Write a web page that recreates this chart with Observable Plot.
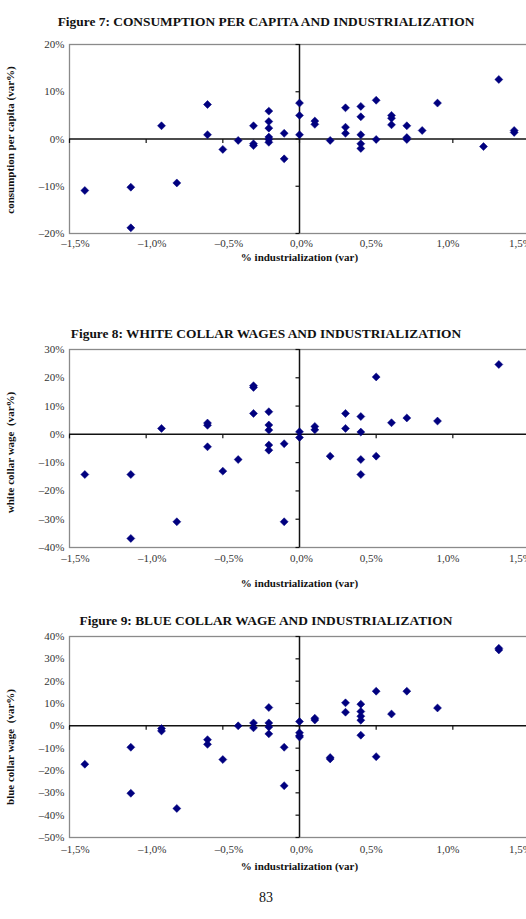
<!DOCTYPE html>
<html>
<head>
<meta charset="utf-8">
<script src="https://cdn.jsdelivr.net/npm/d3@7"></script>
<script src="https://cdn.jsdelivr.net/npm/@observablehq/plot@0.6"></script>
<style>
  html, body { margin: 0; padding: 0; background: #fff; }
  body { width: 526px; height: 919px; overflow: hidden; }
  #page { position: relative; width: 526px; height: 919px; overflow: hidden;
          font-family: "Liberation Serif", "Times New Roman", serif; color: #111; }
  .title { position: absolute; left: 0; width: 532px; text-align: center;
           font-weight: bold; font-size: 13.4px; line-height: 14px; white-space: nowrap; }
  .chart { position: absolute; left: 0; overflow: visible; max-width: none !important; }
  .page-number { position: absolute; left: 0; width: 532px; text-align: center;
                 font-size: 14px; line-height: 14px; }
</style>
</head>
<body>
<div id="page">
  <div class="title" style="top:15px">Figure 7: CONSUMPTION PER CAPITA AND INDUSTRIALIZATION</div>
  <div class="title" style="top:327px">Figure 8: WHITE COLLAR WAGES AND INDUSTRIALIZATION</div>
  <div class="title" style="top:614px">Figure 9: BLUE COLLAR WAGE AND INDUSTRIALIZATION</div>
  <div class="page-number" style="top:891px">83</div>
</div>
<script>
// Industrialization change (%) shared tick labels
const industrializationTicks = [-1.5, -1.0, -0.5, 0.0, 0.5, 1.0, 1.5];

// Figure 7: consumption per capita vs industrialization
const consumptionX = [-1.4, -1.1, -1.1, -0.9, -0.8, -0.6, -0.6, -0.5, -0.4, -0.3, -0.3, -0.3,
  -0.2, -0.2, -0.2, -0.2, -0.2, -0.2, -0.1, -0.1, 0.0, 0.0, 0.0, 0.1, 0.1, 0.2,
  0.3, 0.3, 0.3, 0.4, 0.4, 0.4, 0.4, 0.4, 0.5, 0.5, 0.6, 0.6, 0.6, 0.7, 0.7, 0.7,
  0.8, 0.9, 1.2, 1.3, 1.4, 1.4];
const consumptionY = [-10.9, -10.2, -18.8, 2.8, -9.3, 7.3, 0.9, -2.2, -0.3, 2.8, -1.0, -1.4,
  5.9, 3.7, 2.3, 0.4, -0.1, -0.7, 1.2, -4.2, 7.6, 5.0, 0.9, 3.8, 3.1, -0.3,
  6.6, 2.5, 1.2, 6.9, 4.7, 0.9, -1.0, -2.0, 8.2, -0.1, 5.0, 4.4, 3.0, 2.8, 0.3, -0.1,
  1.8, 7.6, -1.6, 12.6, 1.8, 1.4];
const consumptionTicks = [-20, -10, 0, 10, 20];

// Figure 8: white collar wages vs industrialization
const whiteCollarX = [-1.4, -1.1, -1.1, -0.9, -0.8, -0.6, -0.6, -0.6, -0.5, -0.4, -0.3, -0.3, -0.3,
  -0.2, -0.2, -0.2, -0.2, -0.2, -0.1, -0.1, 0.0, 0.0, 0.1, 0.1, 0.2, 0.3, 0.3,
  0.4, 0.4, 0.4, 0.4, 0.5, 0.5, 0.6, 0.7, 0.9, 1.3];
const whiteCollarY = [-14.2, -14.2, -36.8, 2.1, -30.9, 4.0, 3.2, -4.4, -13.0, -8.9, 17.2, 16.6, 7.4,
  8.0, 3.3, 1.5, -3.8, -5.6, -3.3, -30.9, 0.9, -1.1, 2.8, 1.6, -7.7, 7.4, 2.1,
  6.3, 0.8, -8.9, -14.2, 20.3, -7.7, 4.1, 5.8, 4.7, 24.7];
const whiteCollarTicks = [-40, -30, -20, -10, 0, 10, 20, 30];

// Figure 9: blue collar wages vs industrialization
const blueCollarX = [-1.4, -1.1, -1.1, -0.9, -0.9, -0.8, -0.6, -0.6, -0.5, -0.4, -0.3, -0.3,
  -0.2, -0.2, -0.2, -0.2, -0.1, -0.1, 0.0, 0.0, 0.0, 0.0, 0.1, 0.1, 0.2, 0.2,
  0.3, 0.3, 0.4, 0.4, 0.4, 0.4, 0.4, 0.5, 0.5, 0.6, 0.7, 0.9, 1.3, 1.3];
const blueCollarY = [-17.2, -9.6, -30.2, -1.2, -2.3, -37.0, -6.2, -8.3, -15.1, 0.0, 1.3, -0.9,
  8.2, 1.3, -0.5, -3.6, -9.6, -26.8, 1.9, -3.1, -4.4, -5.0, 3.4, 2.6, -14.2, -14.8,
  10.3, 6.1, 9.7, 6.4, 4.3, 2.5, -4.2, 15.5, -13.8, 5.3, 15.5, 8.0, 34.7, 34.0];
const blueCollarTicks = [-50, -40, -30, -20, -10, 0, 10, 20, 30, 40];

const xTitle = "% industrialization (var)";

// Short tick strokes hung off the zero lines
const tickDown = {draw(ctx) { ctx.moveTo(0, 0); ctx.lineTo(0, 4); }};
const tickLeft = {draw(ctx) { ctx.moveTo(0, 0); ctx.lineTo(-4, 0); }};

const dash = v => (v < 0 ? "\u2013" : "");
const fmtX = v => dash(v) + Math.abs(v).toFixed(1).replace(".", ",") + "%";
const fmtY = v => dash(v) + Math.abs(v) + "%";

// Bottom tick labels, nudged in groups the way the printed axis sets them
function xLabels(tickPad) {
  const groups = [
    {ticks: industrializationTicks.filter(t => t < 0), dx: 6},
    {ticks: industrializationTicks.filter(t => t === 0), dx: 2},
    {ticks: industrializationTicks.filter(t => t > 0 && t < 1.5), dx: -5},
    {ticks: industrializationTicks.filter(t => t >= 1.5), dx: -9}
  ];
  return groups.map(g => Plot.axisX({ticks: g.ticks, tickFormat: fmtX, tickSize: 0, tickPadding: tickPad,
    label: null, fill: "#333", fontSize: 11, dx: g.dx}));
}

function scatter({xs, ys, yTicks, yLabel, frameTop, frameHeight, tickPad, titleOffset, labelShift}) {
  const mt = 10, mb = 50;
  const points = xs.map((x, i) => ({x, y: ys[i]}));
  const chart = Plot.plot({
    width: 540,
    height: frameHeight + mt + mb,
    marginTop: mt,
    marginBottom: mb,
    marginLeft: 69,
    marginRight: 11,
    style: {fontFamily: "Liberation Serif, Times New Roman, serif", fontSize: "11px", background: "transparent", overflow: "visible", maxWidth: "none"},
    x: {domain: [industrializationTicks[0], industrializationTicks[industrializationTicks.length - 1]]},
    y: {domain: [yTicks[0], yTicks[yTicks.length - 1]]},
    marks: [
      Plot.frame({stroke: "#8a8a8a", strokeWidth: 1.3}),
      Plot.ruleY([0], {stroke: "#111", strokeWidth: 1.5}),
      Plot.ruleX([0], {stroke: "#111", strokeWidth: 1.5}),
      Plot.dot(industrializationTicks, {x: d => d, y: () => 0, symbol: tickDown, r: 3, fill: "none", stroke: "#111", strokeWidth: 1.2}),
      Plot.dot(yTicks, {x: () => 0, y: d => d, symbol: tickLeft, r: 3, fill: "none", stroke: "#111", strokeWidth: 1.2}),
      ...xLabels(tickPad),
      Plot.axisY({ticks: yTicks, tickFormat: fmtY, tickSize: 0, tickPadding: 5, label: null, fill: "#333", fontSize: 11}),
      Plot.dot(points, {x: "x", y: "y", symbol: "diamond2", r: 3.6, fill: "#00007f", stroke: "#00007f", strokeWidth: 0.5}),
      Plot.text([xTitle], {frameAnchor: "bottom", textAnchor: "middle", lineAnchor: "middle", dy: titleOffset, fontWeight: "bold", fontSize: 11, fill: "#111"}),
      Plot.text([yLabel], {frameAnchor: "left", textAnchor: "middle", lineAnchor: "middle", rotate: -90, dx: -59, dy: labelShift, fontWeight: "bold", fontSize: 11, fill: "#111"})
    ]
  });
  chart.classList.add("chart");
  chart.style.top = (frameTop - mt) + "px";
  document.getElementById("page").appendChild(chart);
}

scatter({xs: consumptionX, ys: consumptionY, yTicks: consumptionTicks,
  yLabel: "consumption per capita (var%)", frameTop: 44, frameHeight: 189,
  tickPad: 6, titleOffset: 24, labelShift: 1});
scatter({xs: whiteCollarX, ys: whiteCollarY, yTicks: whiteCollarTicks,
  yLabel: "white collar wage  (var%)", frameTop: 349, frameHeight: 198,
  tickPad: 7, titleOffset: 36, labelShift: 4});
scatter({xs: blueCollarX, ys: blueCollarY, yTicks: blueCollarTicks,
  yLabel: "blue collar wage  (var%)", frameTop: 636, frameHeight: 201,
  tickPad: 8, titleOffset: 29, labelShift: 10});
</script>
</body>
</html>
